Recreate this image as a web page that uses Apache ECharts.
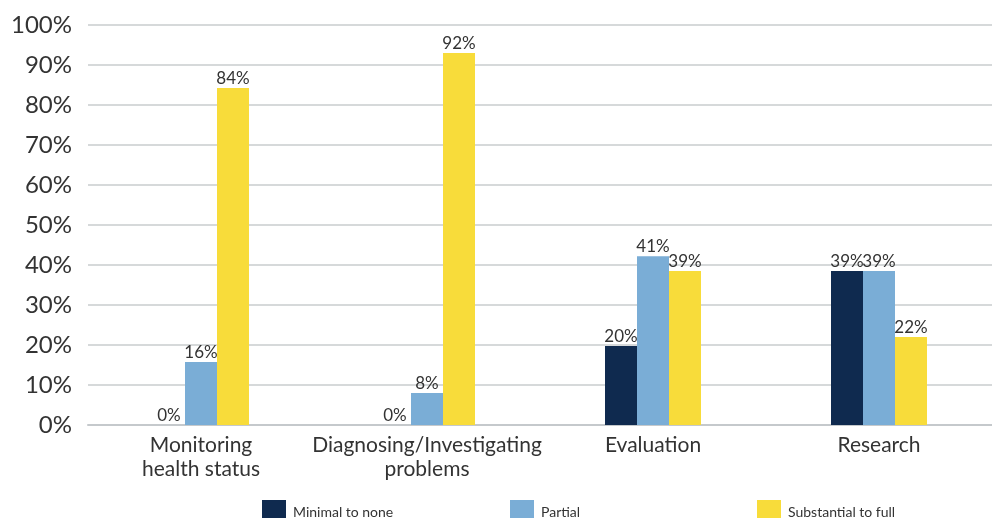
<!DOCTYPE html>
<html><head><meta charset="utf-8">
<script src="https://cdn.jsdelivr.net/npm/echarts@6/dist/echarts.min.js"></script>
<style>html,body{margin:0;padding:0;background:#fff}#c{width:992px;height:518px}</style>
</head><body><div id="c"></div>
<script>
const categories = ['Monitoring\nhealth status', 'Diagnosing/Investigating\nproblems', 'Evaluation', 'Research'];
const seriesNames = ['Minimal to none', 'Partial', 'Substantial to full'];
const minimalValues = [0, 0, 19.75, 38.5];
const partialValues = [15.75, 8, 42.2, 38.5];
const substantialValues = [84.25, 93, 38.5, 22];
const minimalLabels = ['0%', '0%', '20%', '39%'];
const partialLabels = ['16%', '8%', '41%', '39%'];
const substantialLabels = ['84%', '92%', '39%', '22%'];
const colors = ['#0f2a4f', '#7aadd6', '#f8dc3a'];
const yTicks = [0, 10, 20, 30, 40, 50, 60, 70, 80, 90, 100];

const font = 'Lato, "Noto Sans", sans-serif';
function mk(name, vals, labels, color) {
  return {
    name, type: 'bar', data: vals, barWidth: 32, barGap: '0%',
    itemStyle: { color },
    label: { show: true, position: 'top', distance: 1, fontFamily: font, fontSize: 17, color: '#333',
      formatter: p => labels[p.dataIndex] }
  };
}
const chart = echarts.init(document.getElementById('c'));
chart.setOption({
  animation: false,
  grid: { left: 88, right: 0, top: 25, bottom: 93 },
  legend: [0, 1, 2].map(i => ({
    data: [seriesNames[i]], left: [257, 505, 752][i], top: 495, itemWidth: 24, itemHeight: 24,
    icon: 'rect', itemGap: 0, textStyle: { fontFamily: font, fontSize: 14, color: '#333', padding: [0, 0, 0, 2] },
    selectedMode: false
  })),
  xAxis: {
    type: 'category', data: categories,
    axisLine: { lineStyle: { color: '#c5c9cc', width: 2 } },
    axisTick: { show: false },
    axisLabel: { interval: 0, fontFamily: font, fontSize: 21, color: '#333', lineHeight: 24, margin: 8 }
  },
  yAxis: {
    type: 'value', min: 0, max: 100, interval: 10,
    axisLine: { show: false }, axisTick: { show: false },
    splitLine: { lineStyle: { color: '#c8ccce', width: 1.5 } },
    axisLabel: { fontFamily: font, fontSize: 24, color: '#333', margin: 16,
      formatter: v => yTicks.includes(v) ? v + '%' : '' }
  },
  series: [
    mk(seriesNames[0], minimalValues, minimalLabels, colors[0]),
    mk(seriesNames[1], partialValues, partialLabels, colors[1]),
    mk(seriesNames[2], substantialValues, substantialLabels, colors[2])
  ]
});
</script></body></html>
